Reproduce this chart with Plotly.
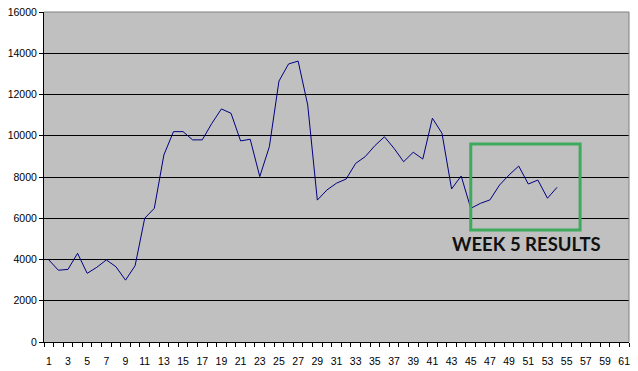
import plotly.graph_objects as go

weeks = list(range(1, 55))
values = [3980, 3480, 3520, 4300, 3330, 3620, 3980, 3650, 3000, 3700,
          6000, 6480, 9070, 10200, 10200, 9800, 9800, 10600, 11300, 11090,
          9750, 9830, 8020, 9470, 12650, 13480, 13620, 11490, 6880, 7370,
          7700, 7900, 8660, 8990, 9520, 9950, 9390, 8740, 9200, 8870,
          10850, 10120, 7420, 8050, 6480, 6720, 6890, 7610, 8100, 8530,
          7660, 7850, 6970, 7500]
tick_values = list(range(1, 62, 2))
tick_labels = [str(v) for v in tick_values]
note_text = "WEEK 5 RESULTS"

fig = go.Figure()
fig.add_trace(go.Scatter(x=weeks, y=values, mode="lines",
                         line=dict(color="#000080", width=1), showlegend=False))

font_axis = dict(family="Liberation Sans, Arial, sans-serif", size=10.5, color="black")

fig.update_layout(
    width=638, height=371,
    margin=dict(l=44, r=9, t=12, b=29),
    paper_bgcolor="white", plot_bgcolor="#C0C0C0",
    xaxis=dict(range=[0.5, 61.5], tickmode="array", tickvals=tick_values, ticktext=tick_labels,
               showgrid=False, zeroline=False, showline=True, linecolor="black", linewidth=1,
               automargin=False,
               ticks="outside", ticklen=9, tickcolor="rgba(0,0,0,0)", tickfont=font_axis,
               minor=dict(tickmode="linear", tick0=0.5, dtick=1, ticks="outside", ticklen=4,
                          tickcolor="black", tickwidth=1, showgrid=False)),
    yaxis=dict(range=[0, 16000], dtick=2000, tickformat="d", showgrid=True, gridcolor="black",
               gridwidth=1, zeroline=False, showline=True, linecolor="black", linewidth=1,
               automargin=False,
               ticks="outside", ticklen=4, tickcolor="black", tickfont=font_axis),
)

# plot area border top/right (gray)
fig.add_shape(type="line", xref="x domain", yref="y domain", x0=0, x1=1, y0=1, y1=1,
              line=dict(color="#808080", width=1))
fig.add_shape(type="line", xref="x domain", yref="y domain", x0=1, x1=1, y0=0, y1=1,
              line=dict(color="#808080", width=1))

# green highlight box
fig.add_shape(type="rect", xref="x", yref="y", x0=45.0, x1=56.4, y0=5430, y1=9600,
              line=dict(color="#3DAA5D", width=3), fillcolor="rgba(0,0,0,0)")

fig.add_annotation(x=50.8, y=4750, xref="x", yref="y", text="<b>" + note_text + "</b>",
                   showarrow=False,
                   font=dict(family="Liberation Sans Narrow, Lato, sans-serif", size=18.5,
                             color="#111111"))

fig.write_html("out.html")
